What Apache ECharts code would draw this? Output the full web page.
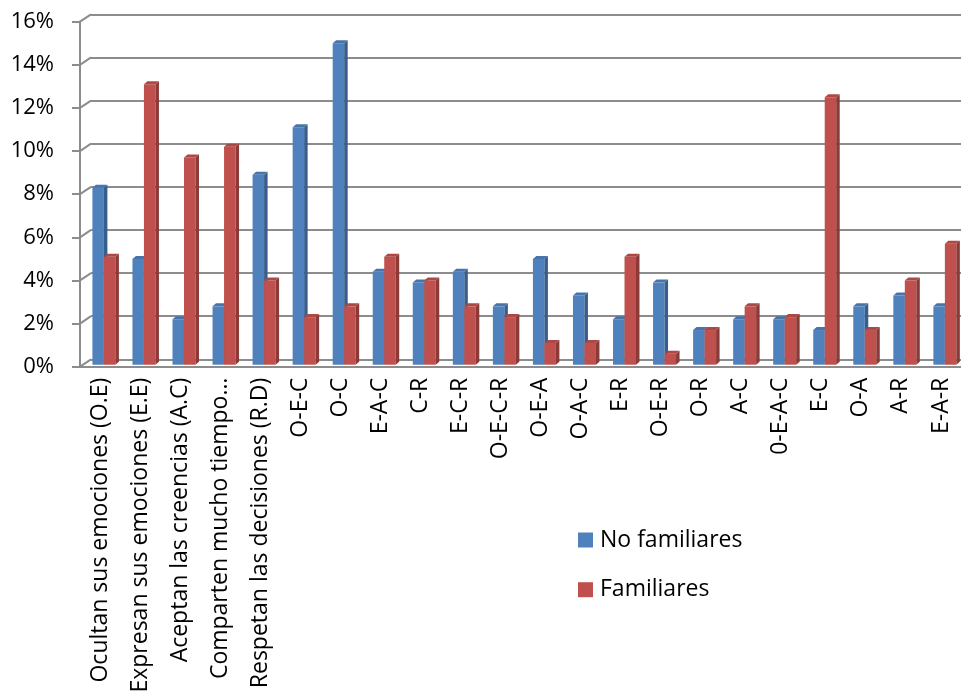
<!DOCTYPE html>
<html>
<head>
<meta charset="utf-8">
<script src="https://cdn.jsdelivr.net/npm/echarts@6/dist/echarts.min.js"></script>
<style>
  html, body { margin: 0; padding: 0; background: #fff; }
  #chart { width: 961px; height: 700px; }
</style>
</head>
<body>
<div id="chart"></div>
<script>
// Categories along the horizontal axis
const categories = [
  'Ocultan sus emociones (O.E)',
  'Expresan sus emociones (E.E)',
  'Aceptan las creencias (A.C)',
  'Comparten mucho tiempo…',
  'Respetan las decisiones (R.D)',
  'O-E-C', 'O-C', 'E-A-C', 'C-R', 'E-C-R', 'O-E-C-R', 'O-E-A', 'O-A-C',
  'E-R', 'O-E-R', 'O-R', 'A-C', '0-E-A-C', 'E-C', 'O-A', 'A-R', 'E-A-R'
];

// Share of each group (percent)
const noFamiliares = [8.3, 5.0, 2.2, 2.8, 8.9, 11.1, 15.0, 4.4, 3.9, 4.4, 2.8,
                      5.0, 3.3, 2.2, 3.9, 1.7, 2.2, 2.2, 1.7, 2.8, 3.3, 2.8];
const familiares   = [5.1, 13.1, 9.7, 10.2, 4.0, 2.3, 2.8, 5.1, 4.0, 2.8, 2.3,
                      1.1, 1.1, 5.1, 0.6, 1.7, 2.8, 2.3, 12.5, 1.7, 4.0, 5.7];

const seriesNames = ['No familiares', 'Familiares'];
const yTicks = [0, 2, 4, 6, 8, 10, 12, 14, 16];

const FONT = 'Open Sans';
const GRID_COLOR = '#8c8c8c';
const DEPTH_X = 11, DEPTH_Y = -7.4;  // offset of the back wall
const BAR_DX = 3.5, BAR_DY = -3;      // bar depth

const palette = [
  { front: '#4f81bd', side: '#385e8c', top: '#4674ab' },
  { front: '#c0504d', side: '#8c3a38', top: '#ad4845' }
];

function barRenderer(seriesIdx) {
  const col = palette[seriesIdx];
  return function (params, api) {
    const i = api.value(0);
    const v = api.value(1);
    const base = api.coord([i, 0]);
    const topP = api.coord([i, v]);
    const band = api.size([1, 0])[0];
    const bw = band * 0.287;
    const x = base[0] - band * 0.19 + seriesIdx * bw;
    const baseY = base[1] - 2;
    const topY = topP[1];
    return {
      type: 'group',
      children: [
        { type: 'rect', shape: { x: x, y: topY, width: bw, height: baseY - topY },
          style: { fill: col.front } },
        { type: 'polygon', shape: { points: [
            [x + bw, topY], [x + bw + BAR_DX, topY + BAR_DY],
            [x + bw + BAR_DX, baseY + BAR_DY], [x + bw, baseY]] },
          style: { fill: col.side } },
        { type: 'polygon', shape: { points: [
            [x, topY], [x + BAR_DX, topY + BAR_DY],
            [x + bw + BAR_DX, topY + BAR_DY], [x + bw, topY]] },
          style: { fill: col.top } }
      ]
    };
  };
}

// Short slanted segments joining the front axis to the back wall
function wallRenderer(params, api) {
  const v = api.value(1);
  const p = api.coord([0, v]);
  const band = api.size([1, 0])[0];
  const x0 = p[0] - band / 2;
  return {
    type: 'line',
    shape: { x1: x0, y1: p[1], x2: x0 + DEPTH_X, y2: p[1] + DEPTH_Y },
    style: { stroke: GRID_COLOR, lineWidth: 2 }
  };
}

const chart = echarts.init(document.getElementById('chart'));
chart.setOption({
  animation: false,
  textStyle: { fontFamily: FONT },
  grid: [
    { left: 80, top: 21.7, height: 345, width: 882.8 },
    { left: 80 + DEPTH_X, top: 21.7 + DEPTH_Y, height: 345, width: 882.8 }
  ],
  xAxis: [
    {
      type: 'category', gridIndex: 0, data: categories,
      axisLine: { lineStyle: { color: GRID_COLOR, width: 2 } },
      axisTick: { length: 8, lineStyle: { color: GRID_COLOR, width: 2 } },
      axisLabel: { rotate: 90, margin: 11, interval: 0, color: '#000',
                   fontSize: 23, fontFamily: FONT }
    },
    {
      type: 'category', gridIndex: 1, data: categories, show: false
    }
  ],
  yAxis: [
    {
      type: 'value', gridIndex: 0, min: 0, max: 16, interval: 2,
      axisLine: { show: true, lineStyle: { color: GRID_COLOR, width: 2 } },
      axisTick: { show: true, length: 8, lineStyle: { color: GRID_COLOR, width: 2 } },
      splitLine: { show: false },
      axisLabel: { formatter: '{value}%', margin: 26, color: '#000',
                   fontSize: 22, fontFamily: FONT }
    },
    {
      type: 'value', gridIndex: 1, min: 0, max: 16, interval: 2,
      axisLine: { show: false }, axisTick: { show: false },
      axisLabel: { show: false },
      splitLine: { show: true, lineStyle: { color: GRID_COLOR, width: 2 } }
    }
  ],
  legend: {
    orient: 'vertical', left: 578, top: 528.5, padding: 0,
    itemWidth: 15, itemHeight: 15, itemGap: 26.7, icon: 'rect',
    textStyle: { fontSize: 23, lineHeight: 22, fontFamily: FONT, color: '#000',
                 padding: [0, 0, 0, 2] },
    data: [
      { name: seriesNames[0], itemStyle: { color: palette[0].front } },
      { name: seriesNames[1], itemStyle: { color: palette[1].front } }
    ]
  },
  series: [
    {
      type: 'custom', name: 'wall', xAxisIndex: 0, yAxisIndex: 0,
      renderItem: wallRenderer, silent: true, z: 1,
      data: yTicks.map(t => [0, t])
    },
    {
      type: 'custom', name: seriesNames[0], xAxisIndex: 0, yAxisIndex: 0,
      renderItem: barRenderer(0), z: 3,
      itemStyle: { color: palette[0].front },
      data: noFamiliares.map((v, i) => [i, v])
    },
    {
      type: 'custom', name: seriesNames[1], xAxisIndex: 0, yAxisIndex: 0,
      renderItem: barRenderer(1), z: 3,
      itemStyle: { color: palette[1].front },
      data: familiares.map((v, i) => [i, v])
    }
  ]
});
</script>
</body>
</html>
